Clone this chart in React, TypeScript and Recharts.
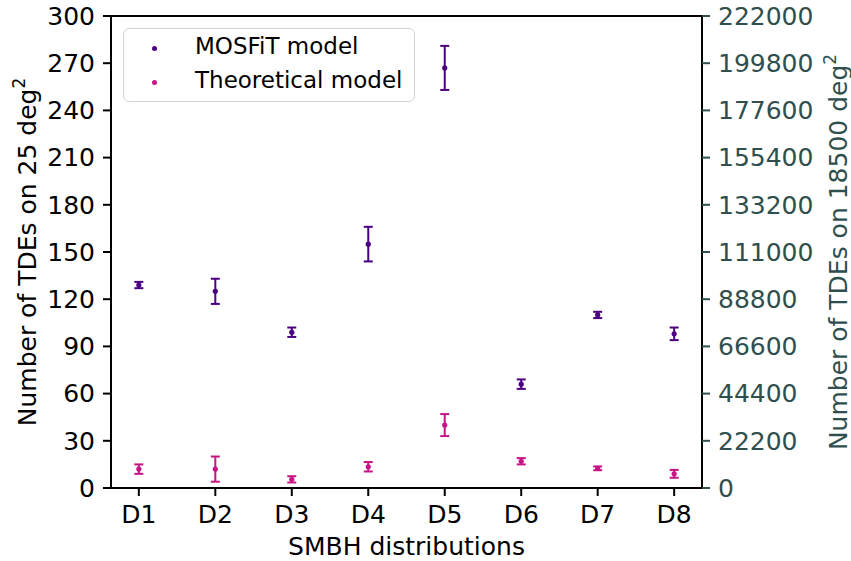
import React from 'react';
import { ScatterChart, Scatter, ErrorBar, XAxis, YAxis, ReferenceLine } from 'recharts';

// SMBH distributions on the x axis
const categories = ['D1', 'D2', 'D3', 'D4', 'D5', 'D6', 'D7', 'D8'];

// number of TDEs on 25 deg^2 (left axis)
const mosfitValues = [129, 125, 99, 155, 267, 66, 110, 98];
const mosfitErrors = [2, 8, 3, 11, 14, 3, 2, 4];
const theoreticalValues = [12, 12, 5.5, 13.5, 40, 17, 12.5, 9];
const theoreticalErrors = [3, 8, 2, 3, 7, 2, 1.2, 2.5];

const leftTicks = [0, 30, 60, 90, 120, 150, 180, 210, 240, 270, 300];
const rightTicks = [0, 22200, 44400, 66600, 88800, 111000, 133200, 155400, 177600, 199800, 222000];

const MOSFIT_COLOR = '#4B0082';
const THEORY_COLOR = '#C71585';
const RIGHT_COLOR = '#2F4F4F';
const FONT = 25;

const mosfitData = categories.map((c, i) => ({ x: i + 1, y: mosfitValues[i], err: mosfitErrors[i] }));
const theoreticalData = categories.map((c, i) => ({ x: i + 1, y: theoreticalValues[i], err: theoreticalErrors[i] }));

const dot = (color: string) => (props: any) => (
  <circle cx={props.cx} cy={props.cy} r={2.6} fill={color} />
);

// rotated y label with a superscript 2
const SideLabel = ({ viewBox, bx, text, color }: any) => {
  const cy = viewBox.y + viewBox.height / 2;
  return (
    <text
      x={bx}
      y={cy}
      transform={`rotate(-90, ${bx}, ${cy})`}
      textAnchor="middle"
      fontSize={FONT}
      fill={color}
    >
      {text}
      <tspan dy={-11} fontSize={17}>2</tspan>
    </text>
  );
};

const BottomLabel = ({ viewBox }: any) => (
  <text x={viewBox.x + viewBox.width / 2} y={555} textAnchor="middle" fontSize={FONT} fill="#000">
    SMBH distributions
  </text>
);

export default function App() {
  return (
    <div style={{ position: 'absolute', left: 0, top: 0, width: 851, height: 561, fontFamily: '"DejaVu Sans", sans-serif', background: '#fff' }}>
      <ScatterChart width={851} height={561} margin={{ top: 16, right: 0, bottom: 0, left: 0 }}>
        <XAxis
          type="number"
          dataKey="x"
          domain={[0.636, 8.364]}
          ticks={[1, 2, 3, 4, 5, 6, 7, 8]}
          tickFormatter={(v) => categories[v - 1]}
          height={73}
          tickSize={8}
          tickMargin={9}
          axisLine={{ stroke: '#000', strokeWidth: 2 }}
          tickLine={{ stroke: '#000', strokeWidth: 2 }}
          tick={{ fill: '#000', fontSize: FONT }}
          label={<BottomLabel />}
        />
        <YAxis
          yAxisId="left"
          type="number"
          dataKey="y"
          domain={[0, 300]}
          ticks={leftTicks}
          width={111}
          tickSize={8}
          tickMargin={8}
          allowDataOverflow
          axisLine={{ stroke: '#000', strokeWidth: 2 }}
          tickLine={{ stroke: '#000', strokeWidth: 2 }}
          tick={{ fill: '#000', fontSize: FONT }}
          label={<SideLabel bx={35.5} text="Number of TDEs on 25 deg" color="#000" />}
        />
        <YAxis
          yAxisId="right"
          orientation="right"
          type="number"
          domain={[0, 222000]}
          ticks={rightTicks}
          width={149}
          tickSize={8}
          tickMargin={8}
          allowDataOverflow
          axisLine={{ stroke: '#000', strokeWidth: 2 }}
          tickLine={{ stroke: RIGHT_COLOR, strokeWidth: 2 }}
          tick={{ fill: RIGHT_COLOR, fontSize: FONT }}
          label={<SideLabel bx={846.5} text="Number of TDEs on 18500 deg" color={RIGHT_COLOR} />}
        />
        <ReferenceLine yAxisId="left" y={300} stroke="#000" strokeWidth={2} />
        <Scatter
          name="MOSFiT model"
          yAxisId="left"
          data={mosfitData}
          fill={MOSFIT_COLOR}
          shape={dot(MOSFIT_COLOR)}
          isAnimationActive={false}
        >
          <ErrorBar dataKey="err" direction="y" width={4.5} stroke={MOSFIT_COLOR} strokeWidth={2} isAnimationActive={false} />
        </Scatter>
        <Scatter
          name="Theoretical model"
          yAxisId="left"
          data={theoreticalData}
          fill={THEORY_COLOR}
          shape={dot(THEORY_COLOR)}
          isAnimationActive={false}
        >
          <ErrorBar dataKey="err" direction="y" width={4.5} stroke={THEORY_COLOR} strokeWidth={2} isAnimationActive={false} />
        </Scatter>
      </ScatterChart>

      {/* legend box, upper left like matplotlib */}
      <div
        style={{
          position: 'absolute',
          left: 123,
          top: 28,
          width: 290,
          height: 72,
          border: '1.5px solid #d4d4d4',
          borderRadius: 6,
          background: 'rgba(255,255,255,0.8)',
          fontSize: 23,
          color: '#000',
        }}
      >
        {[
          { name: 'MOSFiT model', color: MOSFIT_COLOR, top: 3.3 },
          { name: 'Theoretical model', color: THEORY_COLOR, top: 37.3 },
        ].map((item) => (
          <div key={item.name} style={{ position: 'absolute', left: 0, top: item.top, height: 28, lineHeight: '28px', whiteSpace: 'nowrap' }}>
            <span style={{ position: 'absolute', left: 28.3, top: 13.5, width: 5, height: 5, borderRadius: 3, background: item.color }} />
            <span style={{ position: 'absolute', left: 71 }}>{item.name}</span>
          </div>
        ))}
      </div>
    </div>
  );
}
